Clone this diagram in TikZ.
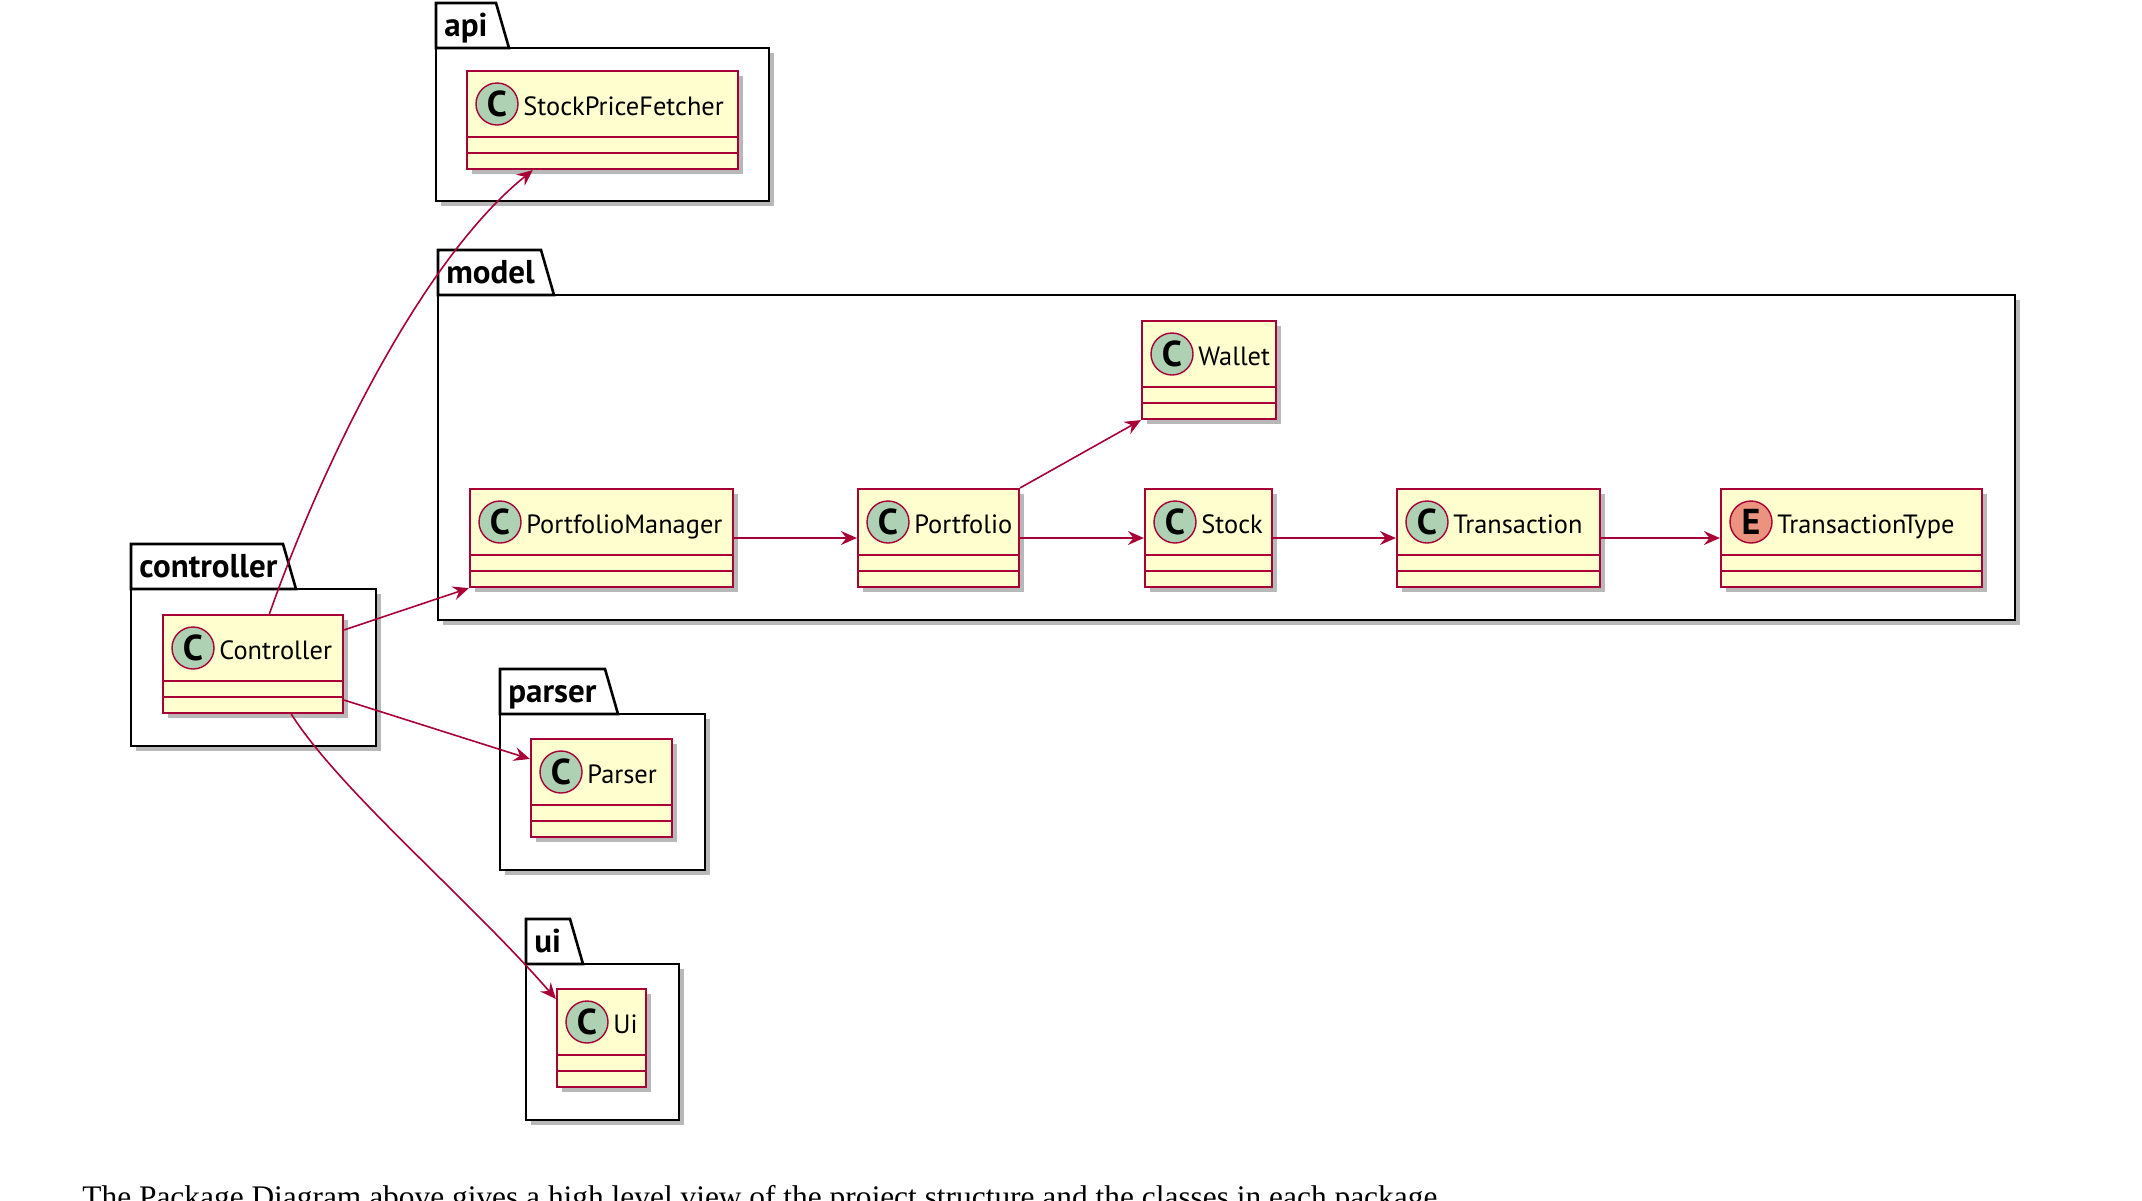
\documentclass[tikz,border=0pt]{standalone}
\usepackage{fontspec}
\setmainfont{PT Sans}
\newfontfamily\capfont{Liberation Serif}
\usetikzlibrary{arrows.meta,shadows,fit,calc}
\definecolor{clsfill}{HTML}{FEFECE}
\definecolor{clsborder}{HTML}{A80036}
\definecolor{ccirc}{HTML}{ADD1B2}
\definecolor{ecirc}{HTML}{EB937F}
\tikzset{
 shd/.style={drop shadow={shadow xshift=2.5pt, shadow yshift=-2.5pt, opacity=0.28, fill=black}},
 pkgbody/.style={draw=black, fill=white, line width=1.3pt, inner sep=0pt, shd},
 pkgtab/.style={draw=black, fill=white, line width=1.3pt},
 pkglabel/.style={anchor=base west, font=\bfseries\fontsize{16.5}{18}\selectfont, inner sep=0pt},
 clsbox/.style={draw=clsborder, fill=clsfill, line width=1.1pt, inner sep=0pt, shd},
 clssep/.style={draw=clsborder, line width=1.1pt},
 circ/.style={circle, draw=clsborder, line width=0.7pt, minimum size=21pt, inner sep=0pt, font=\bfseries\fontsize{18}{18}\selectfont},
 clsname/.style={anchor=base west, inner sep=0pt, font=\fontsize{13.2}{15}\selectfont},
 dep/.style={draw=clsborder, line width=0.8pt, -{Stealth[length=8pt, width=7pt, inset=2.8pt]}},
}
\newcommand\umlpkg[7]{%
 \node[pkgbody, fit={(#2,#3+45) (#4,#5)}] (#1) {};
 \draw[pkgtab] (#2,#3+45) -- (#2,#3) -- (#6,#3) -- (#6+13,#3+45) -- cycle;
 \node[pkglabel] (#1-label) at (#2+8,#3+33) {#7};
}
\newcommand\umlcls[7]{%
 \node[clsbox, fit={(#2,#3) (#4,#3+98)}] (#1) {};
 \draw[clssep] (#2,#3+66) -- (#4,#3+66);
 \draw[clssep] (#2,#3+82) -- (#4,#3+82);
 \node[circ, fill=#7] (#1-icon) at (#2+30,#3+33) {#6};
 \node[clsname] (#1-name) at (#2+56,#3+44) {#5};
}
\begin{document}
\begin{tikzpicture}[x=0.5pt, y=-0.5pt]
\useasboundingbox (0,0) rectangle (2142,1200);
\clip (0,0) rectangle (2142,1200);
\fill[white] (0,0) rectangle (2142,1200);
% packages
\umlpkg{papi}{436}{3}{769}{201}{496}{api}
\umlpkg{pmodel}{438}{250}{2015}{620}{541}{model}
\umlpkg{pctrl}{131}{544}{376}{746}{283}{controller}
\umlpkg{pparser}{500}{669}{705}{870}{605}{parser}
\umlpkg{pui}{526}{919}{679}{1120}{570}{ui}
% classes
\umlcls{spf}{467}{71}{738}{StockPriceFetcher}{C}{ccirc}
\umlcls{wallet}{1142}{321}{1276}{Wallet}{C}{ccirc}
\umlcls{pm}{470}{489}{733}{PortfolioManager}{C}{ccirc}
\umlcls{portfolio}{858}{489}{1019}{Portfolio}{C}{ccirc}
\umlcls{stock}{1145}{489}{1272}{Stock}{C}{ccirc}
\umlcls{trans}{1397}{489}{1600}{Transaction}{C}{ccirc}
\umlcls{ttype}{1721}{489}{1982}{TransactionType}{E}{ecirc}
\umlcls{ctrl}{163}{615}{343}{Controller}{C}{ccirc}
\umlcls{parser}{531}{739}{672}{Parser}{C}{ccirc}
\umlcls{ui}{557}{989}{646}{Ui}{C}{ccirc}
% dependencies
\draw[dep] ($(ctrl.north west)!0.59!(ctrl.north east)$) .. controls +(51,-145) and +(-113,91) .. ($(spf.south west)!0.245!(spf.south east)$);
\draw[dep] ($(ctrl.north east)!0.16!(ctrl.south east)$) -- (pm.south west);
\draw[dep] ($(ctrl.north east)!0.86!(ctrl.south east)$) -- ($(parser.north west)!0.21!(parser.south west)$);
\draw[dep] ($(ctrl.south west)!0.71!(ctrl.south east)$) .. controls +(49,77) and +(-87,-100) .. ($(ui.north west)!0.11!(ui.south west)$);
\draw[dep] (pm.east) -- (portfolio.west);
\draw[dep] (portfolio.east) -- (stock.west);
\draw[dep] (stock.east) -- (trans.west);
\draw[dep] (trans.east) -- (ttype.west);
\draw[dep] (portfolio.north east) -- (wallet.south west);
% caption
\node[anchor=base west, inner sep=0pt, font=\capfont\fontsize{15.7}{17}\selectfont] (caption) at (82,1207) {The Package Diagram above gives a high level view of the project structure and the classes in each package.};
\end{tikzpicture}
\end{document}
